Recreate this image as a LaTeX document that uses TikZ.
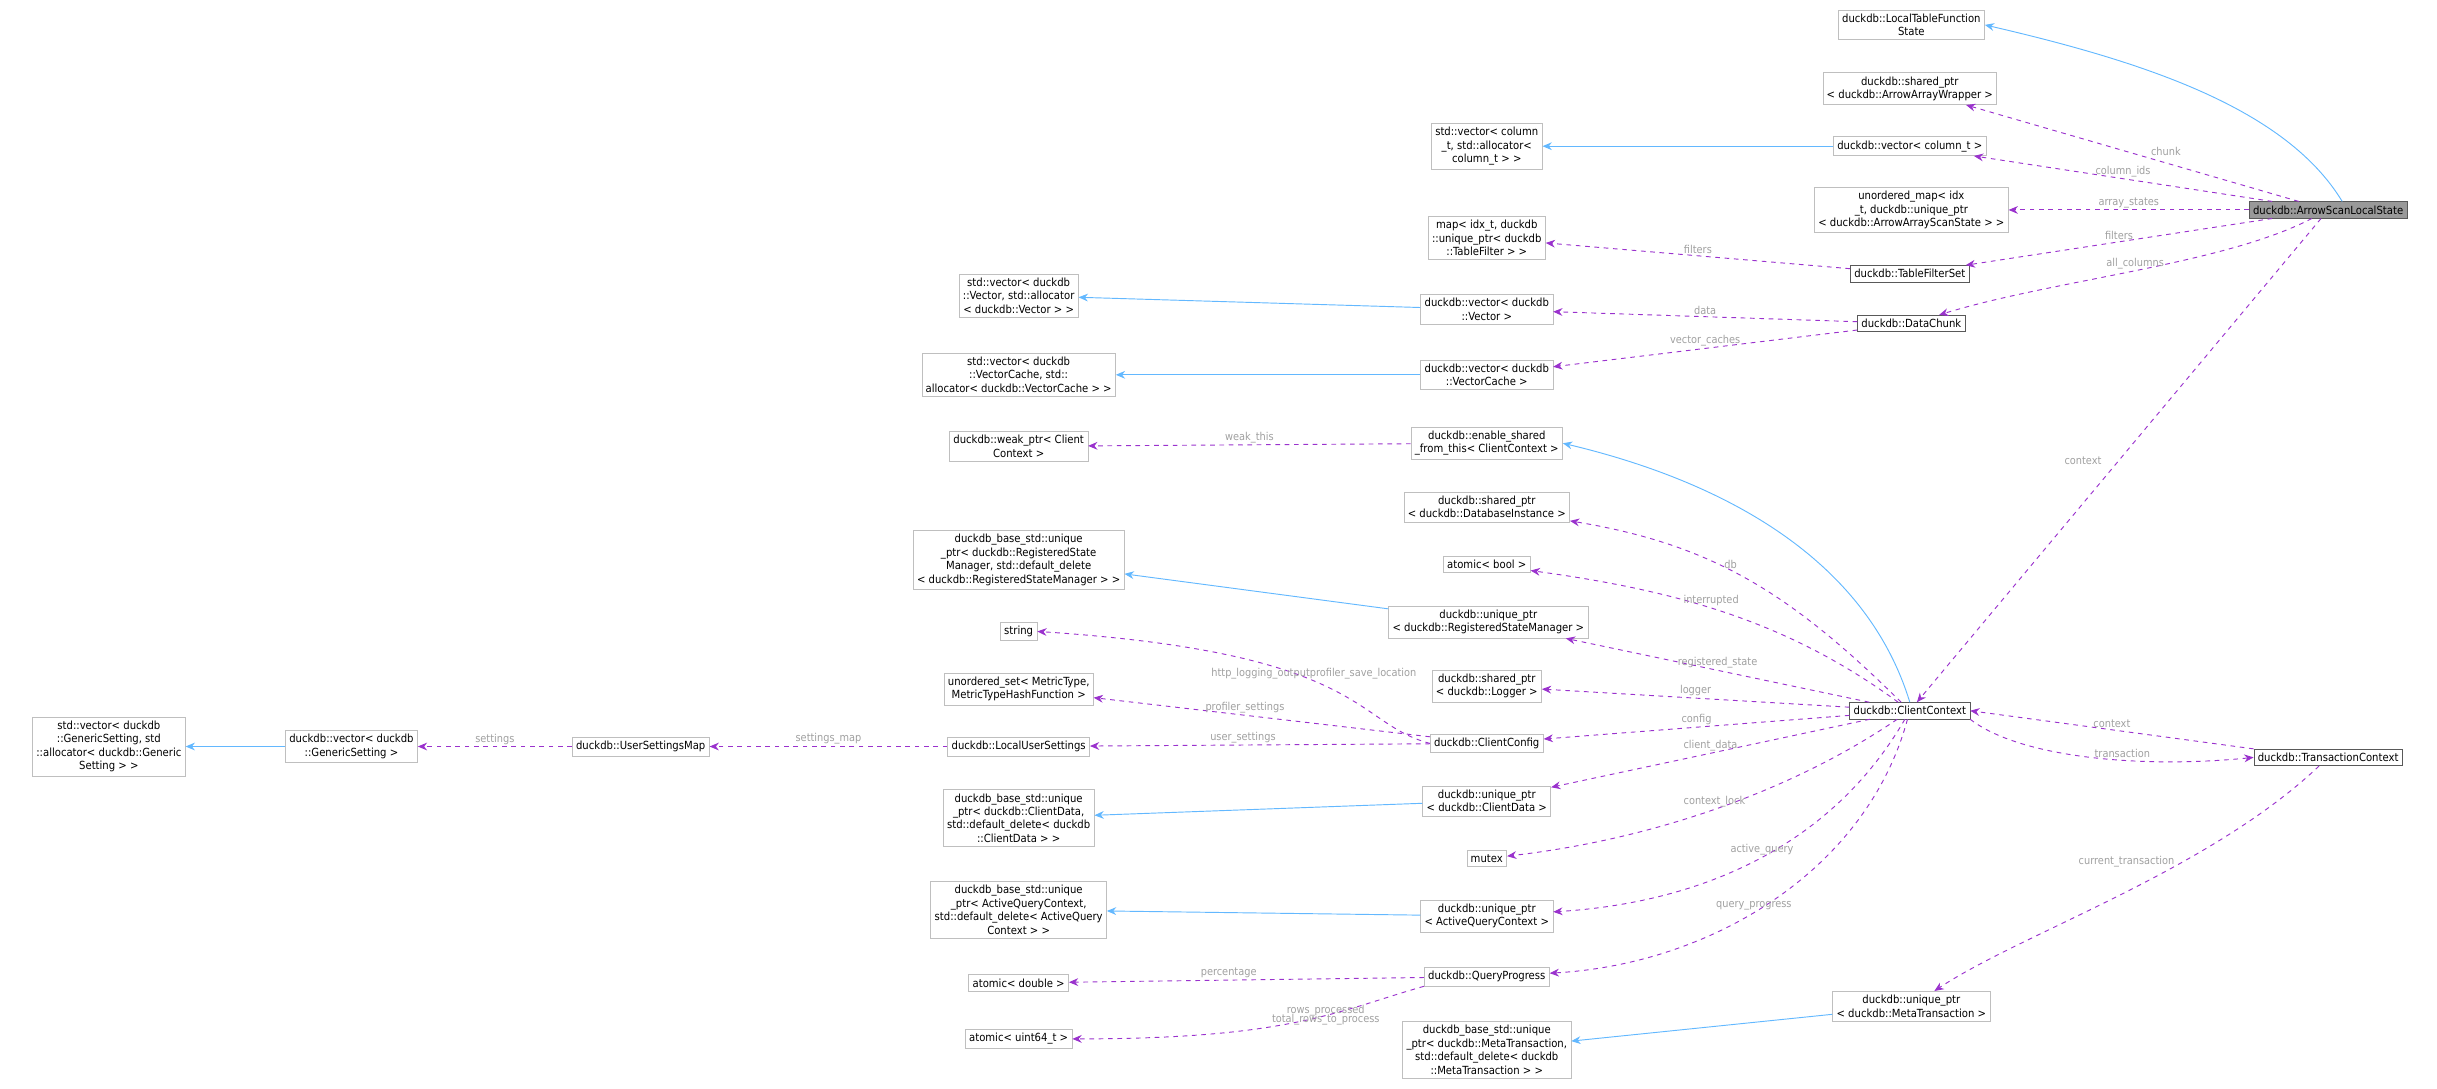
\documentclass[tikz,border=0pt]{standalone}
\usepackage{fontspec}
\setmainfont{DejaVu Sans Condensed}
\usetikzlibrary{arrows.meta}
\definecolor{usecol}{RGB}{154,50,205}
\definecolor{inhcol}{RGB}{99,184,255}
\definecolor{lblcol}{RGB}{160,160,160}
\tikzset{
  cls/.style={draw=black!25,fill=white,align=center,inner sep=2.5pt,font=\fontsize{7.2}{8.6}\selectfont},
  dark/.style={cls,draw=black!65},
  uses/.style={draw=usecol,dashed,semithick,-{Stealth[length=6pt,width=5pt]}},
  isa/.style={draw=inhcol,semithick,-{Stealth[length=6pt,width=5pt]}},
  lbl/.style={text=lblcol,font=\fontsize{7}{8}\selectfont,inner sep=1pt}
}
\begin{document}
\begin{tikzpicture}[x=1pt,y=-1pt]
\useasboundingbox (0,0) rectangle (1567,699.6);
% right column
\node[dark,fill=black!40] (main) at (1497,135) {duckdb::ArrowScanLocalState};
\node[cls] (ltfs) at (1229,16) {duckdb::LocalTableFunction\\State};
\node[cls] (spaaw) at (1228,57) {duckdb::shared\_ptr\\< duckdb::ArrowArrayWrapper >};
\node[cls] (veccol) at (1228,94) {duckdb::vector< column\_t >};
\node[cls] (umap) at (1229,135) {unordered\_map< idx\\\_t, duckdb::unique\_ptr\\< duckdb::ArrowArrayScanState > >};
\node[dark] (tfs) at (1228,176) {duckdb::TableFilterSet};
\node[dark] (chunk) at (1229,208) {duckdb::DataChunk};
\node[dark] (cctx) at (1228,457) {duckdb::ClientContext};
\node[dark] (tctx) at (1497,487) {duckdb::TransactionContext};
\node[cls] (upmeta) at (1229,647) {duckdb::unique\_ptr\\< duckdb::MetaTransaction >};
% middle column
\node[cls] (stdveccol) at (956,94) {std::vector< column\\\_t, std::allocator<\\column\_t > >};
\node[cls] (mapidx) at (956,153) {map< idx\_t, duckdb\\::unique\_ptr< duckdb\\::TableFilter > >};
\node[cls] (vecvec) at (956,199) {duckdb::vector< duckdb\\::Vector >};
\node[cls] (vecvc) at (956,241) {duckdb::vector< duckdb\\::VectorCache >};
\node[cls] (enshared) at (956,285) {duckdb::enable\_shared\\\_from\_this< ClientContext >};
\node[cls] (spdb) at (956,326) {duckdb::shared\_ptr\\< duckdb::DatabaseInstance >};
\node[cls] (abool) at (956,363) {atomic< bool >};
\node[cls] (upreg) at (957,400) {duckdb::unique\_ptr\\< duckdb::RegisteredStateManager >};
\node[cls] (splog) at (956,441) {duckdb::shared\_ptr\\< duckdb::Logger >};
\node[cls] (ccfg) at (956,478) {duckdb::ClientConfig};
\node[cls] (upcdata) at (956,515) {duckdb::unique\_ptr\\< duckdb::ClientData >};
\node[cls] (mutex) at (956,552) {mutex};
\node[cls] (upaq) at (956,589) {duckdb::unique\_ptr\\< ActiveQueryContext >};
\node[cls] (qprog) at (956,628) {duckdb::QueryProgress};
\node[cls] (dbmeta) at (956,675) {duckdb\_base\_std::unique\\\_ptr< duckdb::MetaTransaction,\\std::default\_delete< duckdb\\::MetaTransaction > >};
% left columns
\node[cls] (stdvecvec) at (655,190) {std::vector< duckdb\\::Vector, std::allocator\\< duckdb::Vector > >};
\node[cls] (stdvecvc) at (655,241) {std::vector< duckdb\\::VectorCache, std::\\allocator< duckdb::VectorCache > >};
\node[cls] (weakp) at (655,287) {duckdb::weak\_ptr< Client\\Context >};
\node[cls] (dbreg) at (655,360) {duckdb\_base\_std::unique\\\_ptr< duckdb::RegisteredState\\Manager, std::default\_delete\\< duckdb::RegisteredStateManager > >};
\node[cls] (str) at (655,406) {string};
\node[cls] (uset) at (655,443) {unordered\_set< MetricType,\\MetricTypeHashFunction >};
\node[cls] (lus) at (655,480) {duckdb::LocalUserSettings};
\node[cls] (dbcdata) at (655,526) {duckdb\_base\_std::unique\\\_ptr< duckdb::ClientData,\\std::default\_delete< duckdb\\::ClientData > >};
\node[cls] (dbaq) at (655,585) {duckdb\_base\_std::unique\\\_ptr< ActiveQueryContext,\\std::default\_delete< ActiveQuery\\Context > >};
\node[cls] (adbl) at (655,632) {atomic< double >};
\node[cls] (auint) at (655,668) {atomic< uint64\_t >};
\node[cls] (usmap) at (412,480) {duckdb::UserSettingsMap};
\node[cls] (vecgs) at (226,480) {duckdb::vector< duckdb\\::GenericSetting >};
\node[cls] (stdvecgs) at (70,480) {std::vector< duckdb\\::GenericSetting, std\\::allocator< duckdb::Generic\\Setting > >};
% inheritance
\draw[isa] (main.north west) ++(60,0) .. controls (1470,70) and (1380,40) .. (ltfs.east);
\draw[isa] (veccol) -- (stdveccol);
\draw[isa] (vecvec) -- (stdvecvec);
\draw[isa] (vecvc) -- (stdvecvc);
\draw[isa] (cctx.north) .. controls (1200,360) and (1110,310) .. (enshared.east);
\draw[isa] (upreg) -- (dbreg);
\draw[isa] (upcdata) -- (dbcdata);
\draw[isa] (upaq) -- (dbaq);
\draw[isa] (upmeta) -- (dbmeta);
\draw[isa] (vecgs) -- (stdvecgs);
% members of the scan state
\draw[uses] (main) -- node[lbl,pos=0.45,above right] {chunk} (spaaw);
\draw[uses] (main) -- node[lbl,pos=0.5,above] {column\_ids} (veccol);
\draw[uses] (main) -- node[lbl,pos=0.5,above] {array\_states} (umap);
\draw[uses] (main) -- node[lbl,pos=0.5,above] {filters} (tfs);
\draw[uses] (main) .. controls (1430,170) and (1320,180) .. node[lbl,pos=0.5,above] {all\_columns} (chunk);
\draw[uses] (main) -- node[lbl,pos=0.5,left=10pt] {context} (cctx);
\draw[uses] (tfs) -- node[lbl,midway,above] {filters} (mapidx);
\draw[uses] (chunk) -- node[lbl,midway,above] {data} (vecvec);
\draw[uses] (chunk) -- node[lbl,midway,above] {vector\_caches} (vecvc);
\draw[uses] (enshared) -- node[lbl,midway,above] {weak\_this} (weakp);
% members of the client context
\draw[uses] (cctx) .. controls (1150,380) and (1100,350) .. node[lbl,pos=0.55,above] {db} (spdb);
\draw[uses] (cctx) .. controls (1150,400) and (1080,380) .. node[lbl,pos=0.55,above] {interrupted} (abool);
\draw[uses] (cctx) -- node[lbl,pos=0.5,above] {registered\_state} (upreg);
\draw[uses] (cctx) -- node[lbl,pos=0.5,above] {logger} (splog);
\draw[uses] (cctx) -- node[lbl,pos=0.5,above] {config} (ccfg);
\draw[uses] (cctx) -- node[lbl,pos=0.5,above] {client\_data} (upcdata);
\draw[uses] (cctx) .. controls (1150,510) and (1060,540) .. node[lbl,pos=0.5,above] {context\_lock} (mutex);
\draw[uses] (cctx) .. controls (1180,540) and (1100,580) .. node[lbl,pos=0.5,above] {active\_query} (upaq);
\draw[uses] (cctx) .. controls (1200,560) and (1100,620) .. node[lbl,pos=0.55,above] {query\_progress} (qprog);
\draw[uses] (cctx.south east) .. controls (1300,488) and (1380,494) .. node[lbl,pos=0.6,above] {transaction} (tctx.west);
\draw[uses] (tctx.north west) -- node[lbl,midway,above] {context} (cctx.east);
\draw[uses] (tctx) .. controls (1420,560) and (1300,600) .. node[lbl,pos=0.35,left=4pt] {current\_transaction} (upmeta);
% members of the client config and below
\draw[uses] (ccfg.west) .. controls (870,465) and (880,420) .. node[lbl,pos=0.55,above] {http\_logging\_output\\[-2pt]profiler\_save\_location} (str.east);
\draw[uses] (ccfg) -- node[lbl,pos=0.55,above] {profiler\_settings} (uset);
\draw[uses] (ccfg) -- node[lbl,pos=0.55,above] {user\_settings} (lus);
\draw[uses] (lus) -- node[lbl,midway,above] {settings\_map} (usmap);
\draw[uses] (usmap) -- node[lbl,midway,above] {settings} (vecgs);
\draw[uses] (qprog) -- node[lbl,pos=0.55,above] {percentage} (adbl);
\draw[uses] (qprog.south west) .. controls (860,650) and (830,668) .. node[lbl,pos=0.4,align=center] {rows\_processed\\[-2pt]total\_rows\_to\_process} (auint);
\end{tikzpicture}
\end{document}
